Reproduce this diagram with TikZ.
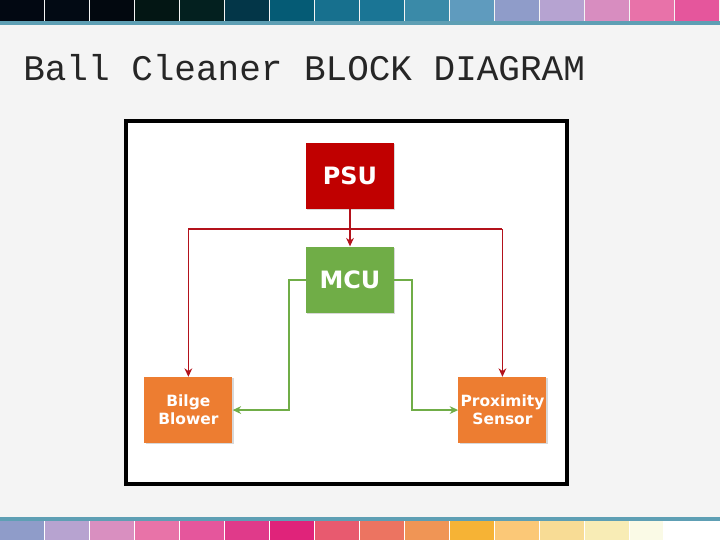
\documentclass[tikz,border=0pt]{standalone}
\usepackage{fontspec}
\newfontfamily\titlefont{Liberation Mono}
\newfontfamily\blockfont{DejaVu Sans}
\usetikzlibrary{positioning,arrows.meta,shadows}
% colours
\definecolor{slidebg}{HTML}{F4F4F4}
\definecolor{barline}{HTML}{5E9FB4}
\definecolor{psured}{HTML}{C00000}
\definecolor{linered}{HTML}{B3121B}
\definecolor{mcugreen}{HTML}{70AD47}
\definecolor{ioorange}{HTML}{ED7D31}
\definecolor{tA}{HTML}{020812}\definecolor{tB}{HTML}{020A14}\definecolor{tC}{HTML}{02080F}
\definecolor{tD}{HTML}{031614}\definecolor{tE}{HTML}{03201F}\definecolor{tF}{HTML}{033648}
\definecolor{tG}{HTML}{055B75}\definecolor{tH}{HTML}{17708E}\definecolor{tI}{HTML}{1A7595}
\definecolor{tJ}{HTML}{3A8AA8}\definecolor{tK}{HTML}{5F9BBE}\definecolor{tL}{HTML}{8F9CC9}
\definecolor{tM}{HTML}{B6A3D1}\definecolor{tN}{HTML}{D88DC0}\definecolor{tO}{HTML}{E872A9}
\definecolor{tP}{HTML}{E5569C}
\definecolor{bA}{HTML}{8F9CC9}\definecolor{bB}{HTML}{B7A3D0}\definecolor{bC}{HTML}{D98FC0}
\definecolor{bD}{HTML}{E873A8}\definecolor{bE}{HTML}{E5569C}\definecolor{bF}{HTML}{E03A8A}
\definecolor{bG}{HTML}{E0237A}\definecolor{bH}{HTML}{E85A6F}\definecolor{bI}{HTML}{EC7461}
\definecolor{bJ}{HTML}{F09555}\definecolor{bK}{HTML}{F6B335}\definecolor{bL}{HTML}{FBC877}
\definecolor{bM}{HTML}{F8DC95}\definecolor{bN}{HTML}{F8ECB5}\definecolor{bO}{HTML}{FAFAE6}
\tikzstyle{block} = [rectangle,minimum width=2.2cm,minimum height=1.65cm,inner sep=1pt,align=center,text=white,
  font=\blockfont\bfseries,drop shadow={shadow xshift=0.9pt,shadow yshift=-0.9pt,opacity=0.3}]
\tikzstyle{powerline} = [draw=linered,line width=0.9pt]
\tikzstyle{dataline} = [draw=mcugreen,line width=1.4pt]
\tikzstyle{arrow} = [-{Stealth[length=6pt,width=5.5pt]}]

\begin{document}
\begin{tikzpicture}[x=0.025cm,y=-0.025cm,node distance=2cm,on grid]
    \useasboundingbox (0,0) rectangle (720,540);
    \fill[slidebg] (0,0) rectangle (720,540);
    % colour bars
    \foreach \c [count=\i from 0] in {tA,tB,tC,tD,tE,tF,tG,tH,tI,tJ,tK,tL,tM,tN,tO,tP}
        \fill[\c] (\i*45,0) rectangle ++(44,21);
    \fill[barline] (0,21) rectangle (720,25);
    \fill[barline] (0,517) rectangle (720,521);
    \fill[white] (0,521) rectangle (720,540);
    \foreach \c [count=\i from 0] in {bA,bB,bC,bD,bE,bF,bG,bH,bI,bJ,bK,bL,bM,bN}
        \fill[\c] (\i*45,521) rectangle ++(44,19);
    \fill[bO] (630,521) rectangle (663,540);
    % title
    \node[anchor=base west,inner sep=0pt,text=black!85,font=\titlefont\fontsize{25.6}{30}\selectfont]
        (title) at (23,80) {Ball Cleaner BLOCK DIAGRAM};
    % frame
    \draw[line width=2.8pt,fill=white] (126,121) rectangle (567,484);
    % blocks
    \node[block,fill=psured,font=\blockfont\bfseries\fontsize{17}{20}\selectfont] (PSU) at (350,176) {PSU};
    \node[block,fill=mcugreen,font=\blockfont\bfseries\fontsize{17}{20}\selectfont] (MCU) [below=2.59cm of PSU] {MCU};
    \node[block,fill=ioorange,font=\blockfont\bfseries\fontsize{11}{12.8}\selectfont] (Bilge) [below left=3.26cm and 4.04cm of MCU] {Bilge\\Blower};
    \node[block,fill=ioorange,font=\blockfont\bfseries\fontsize{11}{12.8}\selectfont] (Prox) [below right=3.26cm and 3.81cm of MCU] {Proximity\\Sensor};
    % power
    \coordinate (busL) at (Bilge.north |- 0,229);
    \coordinate (busR) at (Prox.north |- 0,229);
    \draw[powerline,arrow] (PSU) -- (MCU);
    \draw[powerline] (busL) -- (busR);
    \draw[powerline,arrow] (busL) -- (Bilge);
    \draw[powerline,arrow] (busR) -- (Prox);
    % data
    \draw[dataline,arrow] (MCU.west) -- ++(-17,0) |- (Bilge.east);
    \draw[dataline,arrow] (MCU.east) -- ++(18,0) |- (Prox.west);
\end{tikzpicture}
\end{document}
